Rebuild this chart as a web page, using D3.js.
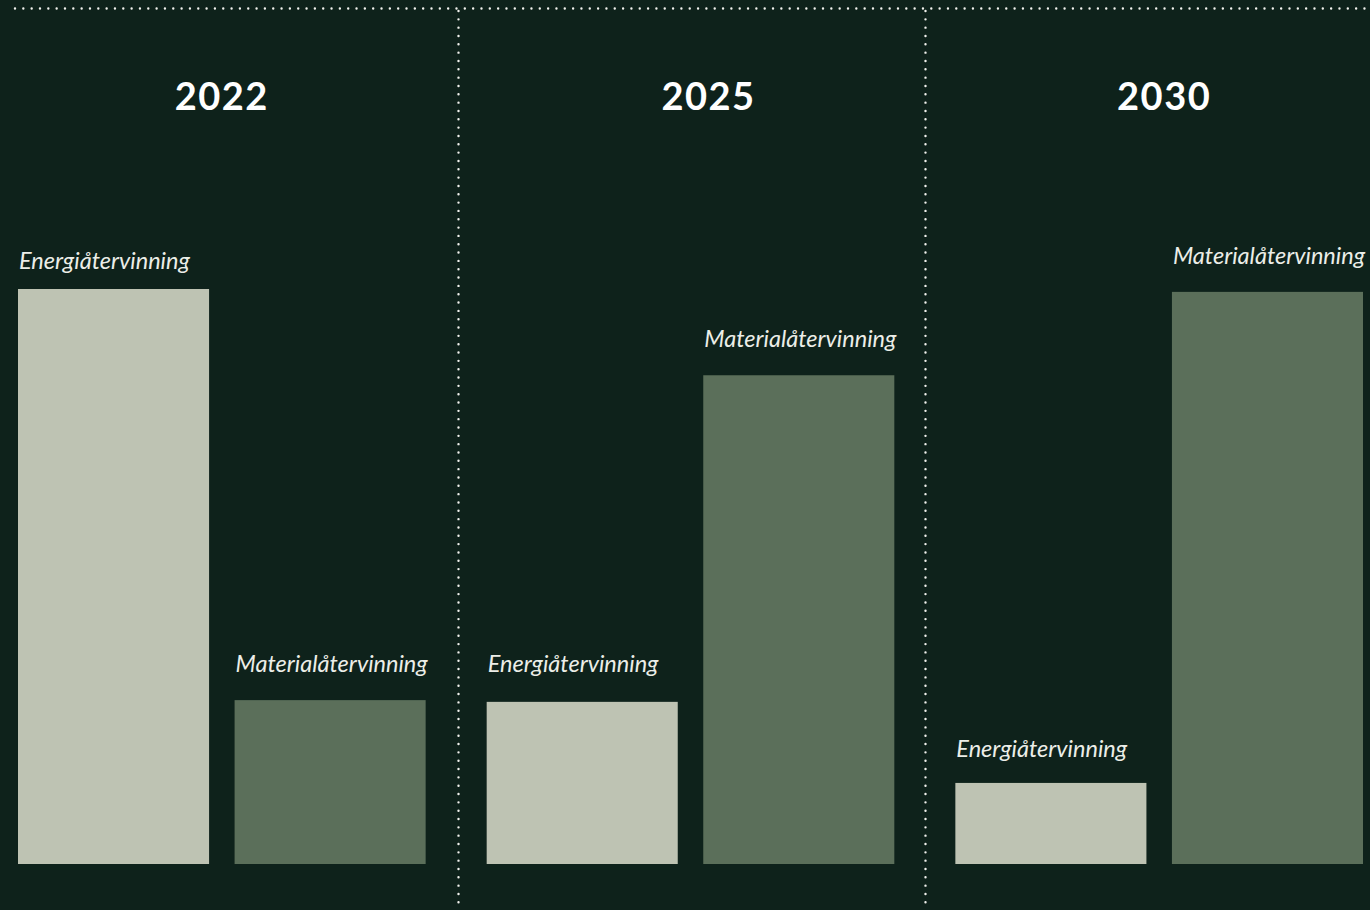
<!DOCTYPE html>
<html>
<head>
<meta charset="utf-8">
<script src="https://cdn.jsdelivr.net/npm/d3@7"></script>
<style>
  html, body { margin: 0; padding: 0; background: #0e221b; }
  svg { display: block; }
</style>
</head>
<body>
<svg id="chart" width="1370" height="910"></svg>
<script>
// ---- data ----
const years = ["2022", "2025", "2030"];
const categories = ["Energiåtervinning", "Materialåtervinning"];
const energiValues = [100, 28.2, 14.1];
const materialValues = [28.5, 85, 99.5];

// ---- layout constants ----
const W = 1370, H = 910;
const baseY = 864, topY = 289;
const titleDx = [0, 18, 5];
const sepDx = [2.5, 0.5];
const labelGap = [[20, 28], [30, 28], [26, 28]];
const colors = { "Energiåtervinning": "#bec3b3", "Materialåtervinning": "#5b6f5a" };

const rows = years.map((y, i) => ({
  year: y,
  idx: i,
  values: [
    { cat: categories[0], v: energiValues[i], gap: labelGap[i][0] },
    { cat: categories[1], v: materialValues[i], gap: labelGap[i][1] }
  ]
}));

const svg = d3.select("#chart");
svg.append("rect").attr("width", W).attr("height", H).attr("fill", "#0e221b");

const x0 = d3.scaleBand().domain(years).range([18, 1363]).paddingInner(61 / 468.5).paddingOuter(0);
const x1 = d3.scaleBand().domain(categories).range([0, x0.bandwidth()]).paddingInner(25.5 / 216.5).paddingOuter(0);
const y = d3.scaleLinear().domain([0, 100]).range([baseY, topY]);

// dotted separators
const dotStyle = sel => sel.attr("stroke", "#f2f2ee").attr("stroke-width", 2.4)
  .attr("stroke-linecap", "round").attr("stroke-dasharray", "0 8.33").attr("fill", "none");

svg.append("line").attr("x1", 15).attr("x2", W).attr("y1", 8.5).attr("y2", 8.5).call(dotStyle);
years.slice(1).forEach((yr, i) => {
  const prevEnd = x0(years[i]) + x0.bandwidth();
  const xs = Math.round((prevEnd + x0(yr)) / 2) + sepDx[i];
  svg.append("line").attr("x1", xs).attr("x2", xs).attr("y1", 11).attr("y2", H).call(dotStyle);
});

const g = svg.selectAll("g.year").data(rows).join("g")
  .attr("class", "year")
  .attr("transform", d => `translate(${x0(d.year)},0)`);

g.append("text")
  .attr("x", d => x0.bandwidth() / 2 + titleDx[d.idx])
  .attr("y", 110)
  .attr("text-anchor", "middle")
  .attr("fill", "#ffffff")
  .attr("font-family", "Lato, sans-serif")
  .attr("font-weight", 700)
  .attr("font-size", 38)
  .attr("letter-spacing", 1.5)
  .text(d => d.year);

g.selectAll("rect.bar").data(d => d.values).join("rect")
  .attr("class", "bar")
  .attr("x", d => x1(d.cat))
  .attr("width", x1.bandwidth())
  .attr("y", d => y(d.v))
  .attr("height", d => baseY - y(d.v))
  .attr("fill", d => colors[d.cat]);

g.selectAll("text.lbl").data(d => d.values).join("text")
  .attr("class", "lbl")
  .attr("x", d => x1(d.cat) + 1)
  .attr("y", d => y(d.v) - d.gap)
  .attr("fill", "#eceee8")
  .attr("font-family", "Lato, sans-serif")
  .attr("font-style", "italic")
  .attr("font-size", 23.5)
  .text(d => d.cat);
</script>
</body>
</html>
